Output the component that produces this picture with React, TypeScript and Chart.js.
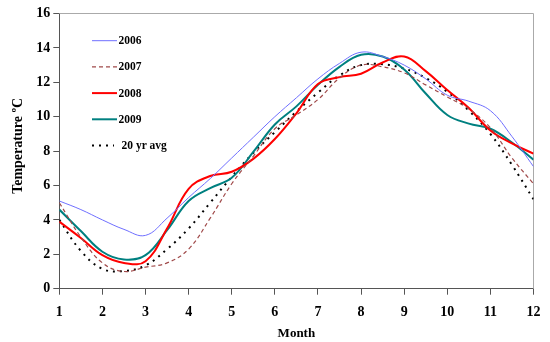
import React, { useEffect, useRef } from 'react';
import { Chart, registerables } from 'chart.js';

Chart.register(...registerables);

const months = [1, 1.5, 2, 2.5, 3, 3.5, 4, 4.5, 5, 5.5, 6, 6.5, 7, 7.5, 8, 8.5, 9, 9.5, 10, 10.5, 11, 11.5, 12];
const s2006 = [5.1, 4.6, 4.0, 3.45, 3.1, 4.1, 5.3, 6.4, 7.6, 8.8, 10.0, 11.1, 12.2, 13.1, 13.75, 13.5, 13.0, 12.2, 11.25, 10.9, 10.35, 8.85, 7.1];
const s2007 = [5.0, 3.0, 1.5, 1.0, 1.25, 1.5, 2.3, 4.1, 6.1, 7.7, 9.3, 10.1, 11.0, 12.25, 13.0, 12.9, 12.55, 11.85, 11.15, 10.45, 9.35, 7.6, 6.1];
const s2008 = [3.9, 2.95, 1.95, 1.5, 1.6, 3.5, 5.8, 6.55, 6.8, 7.55, 8.7, 10.2, 11.9, 12.3, 12.5, 13.15, 13.5, 12.65, 11.55, 10.5, 9.2, 8.45, 7.85];
const s2009 = [4.6, 3.35, 2.15, 1.7, 1.95, 3.4, 5.1, 5.85, 6.45, 7.95, 9.55, 10.6, 11.85, 12.9, 13.6, 13.5, 12.75, 11.35, 10.1, 9.6, 9.3, 8.5, 7.5];
const sAvg = [4.0, 2.2, 1.15, 1.03, 1.35, 2.3, 3.5, 5.0, 6.5, 7.9, 9.1, 10.3, 11.4, 12.4, 13.0, 13.05, 12.8, 12.25, 11.45, 10.35, 9.0, 7.2, 5.2];

const seriesLabels = ['2006', '2007', '2008', '2009', '20 yr avg'];
const xMin = 1;
const xMax = 12;
const yMin = 0;
const yMax = 16;

const FONT = "'Liberation Serif', 'Times New Roman', serif";

export default function App() {
  const ref = useRef<HTMLCanvasElement>(null);

  useEffect(() => {
    document.body.style.margin = '0';
    const canvas = ref.current;
    if (!canvas) return;

    const toPts = (arr: number[]) => months.map((m, i) => ({ x: m, y: arr[i] }));

    const framePlugin = {
      id: 'frame',
      beforeDatasetsDraw(chart: any) {
        const { ctx, chartArea } = chart;
        ctx.save();
        ctx.strokeStyle = '#aaaaaa';
        ctx.lineWidth = 1;
        ctx.beginPath();
        ctx.moveTo(chartArea.left, chartArea.top);
        ctx.lineTo(chartArea.right, chartArea.top);
        ctx.lineTo(chartArea.right, chartArea.bottom);
        ctx.stroke();
        ctx.restore();
      },
    };

    const legendPlugin = {
      id: 'customLegend',
      afterDatasetsDraw(chart: any) {
        const { ctx } = chart;
        ctx.save();
        chart.data.datasets.forEach((ds: any, i: number) => {
          const y = 40.7 + i * 26.2;
          ctx.strokeStyle = ds.borderColor;
          ctx.lineWidth = ds.borderWidth;
          ctx.setLineDash(ds.borderDash || []);
          ctx.beginPath();
          ctx.moveTo(92, y);
          ctx.lineTo(i === 4 ? 114 : 117, y);
          ctx.stroke();
          ctx.setLineDash([]);
          ctx.fillStyle = '#000';
          ctx.font = `bold 11.5px ${FONT}`;
          ctx.textBaseline = 'middle';
          ctx.textAlign = 'left';
          ctx.fillText(ds.label, i === 4 ? 121.5 : 118.5, y + 0.5);
        });
        ctx.restore();
      },
    };

    const chart = new Chart(canvas, {
      type: 'line',
      data: {
        datasets: [
          { label: seriesLabels[0], data: toPts(s2006), borderColor: '#6f6fff', borderWidth: 1, tension: 0.4, pointRadius: 0 },
          { label: seriesLabels[1], data: toPts(s2007), borderColor: '#a04a4a', borderWidth: 1.2, borderDash: [4, 3], tension: 0.4, pointRadius: 0 },
          { label: seriesLabels[2], data: toPts(s2008), borderColor: '#ff0000', borderWidth: 2, tension: 0.4, pointRadius: 0 },
          { label: seriesLabels[3], data: toPts(s2009), borderColor: '#008080', borderWidth: 2, tension: 0.4, pointRadius: 0 },
          { label: seriesLabels[4], data: toPts(sAvg), borderColor: '#000000', borderWidth: 2, borderDash: [2, 5], tension: 0.4, pointRadius: 0 },
        ],
      },
      options: {
        animation: false,
        responsive: false,
        layout: { padding: { top: 13.5, right: 16.5, left: 0, bottom: 0 } },
        plugins: { legend: { display: false }, tooltip: { enabled: false } },
        scales: {
          x: {
            type: 'linear',
            min: xMin,
            max: xMax,
            ticks: { stepSize: 1, color: '#000', padding: 9, font: { family: FONT, weight: 'bold', size: 14 } },
            grid: { drawOnChartArea: false, drawTicks: true, tickLength: 6, color: '#555555' },
            border: { color: '#555555', width: 1 },
            title: { display: true, text: 'Month', color: '#000', font: { family: FONT, weight: 'bold', size: 13 }, padding: { top: 0, bottom: 0.5 } },
            afterFit: (s: any) => { s.height = 53.3; },
          },
          y: {
            type: 'linear',
            min: yMin,
            max: yMax,
            ticks: { stepSize: 2, color: '#000', padding: 3, font: { family: FONT, weight: 'bold', size: 14 } },
            grid: { drawOnChartArea: false, drawTicks: true, tickLength: 6, color: '#555555' },
            border: { color: '#555555', width: 1 },
            title: { display: true, text: '   Temperature ºC', color: '#000', font: { family: FONT, weight: 'bold', size: 14 }, padding: { top: 9.5, bottom: 0 } },
            afterFit: (s: any) => { s.width = 59.3; },
          },
        },
      },
      plugins: [framePlugin, legendPlugin],
    } as any);

    return () => chart.destroy();
  }, []);

  return (
    <div style={{ width: 550, height: 342 }}>
      <canvas ref={ref} width={550} height={342} style={{ display: 'block' }} />
    </div>
  );
}
